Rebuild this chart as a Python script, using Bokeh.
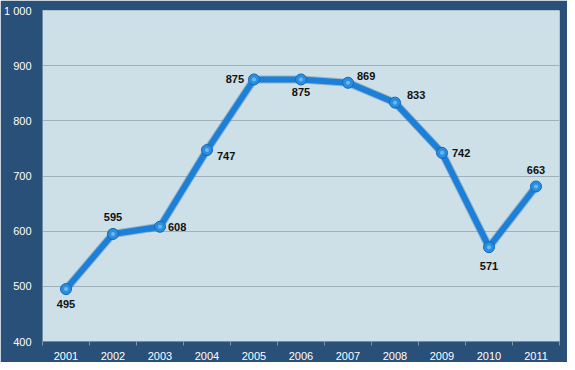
from bokeh.plotting import figure
from bokeh.models import FixedTicker, ColumnDataSource, LabelSet
from bokeh.core.properties import value
from bokeh.embed import file_html
from bokeh.resources import INLINE

years = ["2001", "2002", "2003", "2004", "2005", "2006", "2007", "2008", "2009", "2010", "2011"]
values = [495, 595, 608, 747, 875, 875, 869, 833, 742, 571, 681]
value_labels = ["495", "595", "608", "747", "875", "875", "869", "833", "742", "571", "663"]
y_ticks = [400, 500, 600, 700, 800, 900, 1000]
y_tick_labels = ["400", "500", "600", "700", "800", "900", "1 000"]

# label placement (pixel offsets / alignment) - styling only
lab_dx = [0, 0, 8, 10, -10, 0, 9, 12, 10, 0, 0]
lab_dy = [-15, 17, 0, -6, 0, -13, 7, 8, 0, -19, 16]
lab_align = ["center", "center", "left", "left", "right", "center", "left", "left", "left", "center", "center"]

BG = "#285079"
PLOT_BG = "#cddfe7"

xs = list(range(len(years)))
bounds = [i + 0.5 for i in range(-1, len(years))]

p = figure(width=567, height=362, output_backend="svg", toolbar_location=None,
           x_range=(-0.5, len(years) - 0.5), y_range=(400, 1000))
p.min_border_left = 38
p.min_border_right = 8
p.min_border_top = 10
p.min_border_bottom = 15
p.background_fill_color = PLOT_BG
p.border_fill_color = BG
p.outline_line_color = None

p.xgrid.grid_line_color = None
p.ygrid.grid_line_color = "#9fb2bc"
p.ygrid.grid_line_width = 1
p.ygrid.ticker = FixedTicker(ticks=y_ticks)

p.yaxis.ticker = FixedTicker(ticks=y_ticks)
p.yaxis.major_label_overrides = {t: l for t, l in zip(y_ticks, y_tick_labels)}
p.yaxis.axis_line_color = "#6f8ea6"
p.yaxis.major_tick_line_color = None
p.yaxis.minor_tick_line_color = None
p.yaxis.major_label_text_color = "white"
p.yaxis.major_label_text_font = "Liberation Sans"
p.yaxis.major_label_text_font_size = "11px"
p.yaxis.major_label_standoff = 5

p.xaxis.ticker = FixedTicker(ticks=xs, minor_ticks=bounds)
p.xaxis.major_label_overrides = {i: y for i, y in zip(xs, years)}
p.xaxis.axis_line_color = "#6f8ea6"
p.xaxis.major_tick_line_color = None
p.xaxis.minor_tick_line_color = "#7d98ad"
p.xaxis.minor_tick_in = 0
p.xaxis.minor_tick_out = 4
p.xaxis.major_label_text_color = "white"
p.xaxis.major_label_text_font = "Liberation Sans"
p.xaxis.major_label_text_font_size = "11px"
p.xaxis.major_label_standoff = 4

src = ColumnDataSource(dict(x=xs, y=values, label=value_labels,
                            dx=lab_dx, dy=lab_dy, align=lab_align))

p.line("x", "y", source=src, line_color="#1d4f86", line_width=8, line_alpha=0.3)
p.line("x", "y", source=src, line_color="#1c80d8", line_width=6, line_join="round")
p.scatter("x", "y", source=src, size=11, fill_color="#2a8fe0",
          line_color="#1466b3", line_width=1)
p.scatter("x", "y", source=src, size=4, fill_color="#8cc8f5", line_color=None, fill_alpha=0.7)

labels = LabelSet(x="x", y="y", text="label", source=src,
                  x_offset="dx", y_offset="dy", text_align="align",
                  text_baseline="middle", text_font=value("Liberation Sans"),
                  text_font_size="11px", text_font_style="bold", text_color="#111111")
p.add_layout(labels)

html = file_html(p, INLINE)
html = html.replace("<body>", '<body style="background:%s">' % BG, 1)
open("out.html", "w").write(html)
